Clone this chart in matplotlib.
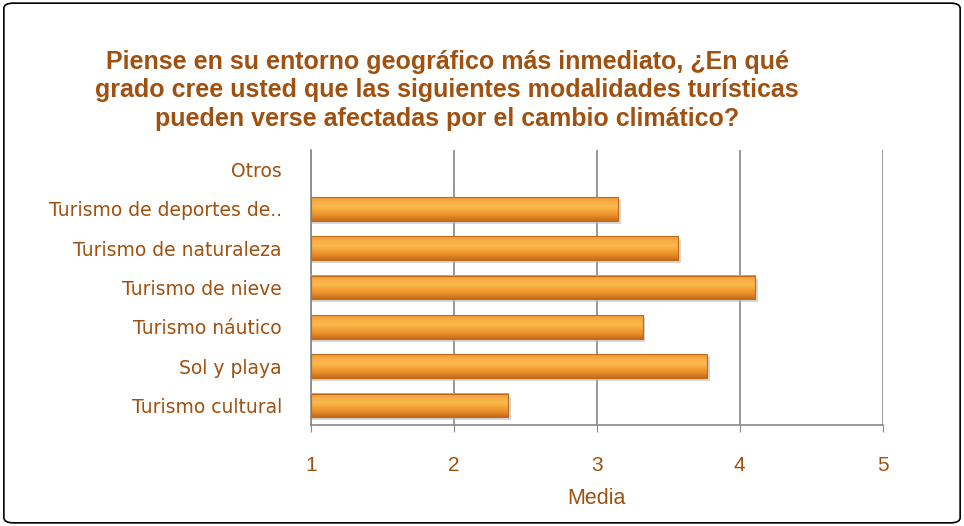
import numpy as np
import matplotlib.pyplot as plt
from matplotlib.colors import LinearSegmentedColormap
from matplotlib.patches import FancyBboxPatch, Rectangle

plt.rcParams['font.family'] = ['Liberation Sans', 'DejaVu Sans']

categories = ['Turismo cultural', 'Sol y playa', 'Turismo náutico', 'Turismo de nieve',
              'Turismo de naturaleza', 'Turismo de deportes de..', 'Otros']
values = [2.38, 3.77, 3.32, 4.11, 3.57, 3.15, np.nan]
xticks = [1, 2, 3, 4, 5]

title = ('Piense en su entorno geográfico más inmediato, ¿En qué\n'
         'grado cree usted que las siguientes modalidades turísticas\n'
         'pueden verse afectadas por el cambio climático?')

brown = '#A0500F'
fig = plt.figure(figsize=(9.64, 5.26), dpi=100)
fig.patches.append(FancyBboxPatch((0.004, 0.006), 0.992, 0.988, boxstyle='round,pad=0,rounding_size=0.01',
                                  transform=fig.transFigure, fill=False, edgecolor='black', linewidth=1.2))

ax = fig.add_axes([0.3226, 0.192, 0.593, 0.523])

# vertical gradient for the bars (top light, bottom dark)
cmap = LinearSegmentedColormap.from_list('bar', ['#C46C1A', '#E58A28', '#F4A236', '#FAB94E', '#F7AE45', '#F09A38'])
grad = np.linspace(0, 1, 64).reshape(-1, 1)
h = 0.6
for i, v in enumerate(values):
    if np.isnan(v):
        continue
    # shadow
    ax.add_patch(Rectangle((1, i - h / 2 - 0.08), v - 1 + 0.02, h, facecolor='#BBBBBB',
                           edgecolor='none', alpha=0.6, zorder=2, hatch='....'))
    ax.imshow(grad, cmap=cmap, aspect='auto', origin='lower',
              extent=(1, v, i - h / 2, i + h / 2), zorder=3)
    ax.add_patch(Rectangle((1, i - h / 2), v - 1, h, facecolor='none',
                           edgecolor='#C06A18', linewidth=0.8, zorder=4))

ax.set_xlim(1, 5)
ax.set_ylim(-0.5, len(categories) - 0.5)
ax.set_xticks(xticks)
ax.set_xticklabels([str(t) for t in xticks], color=brown, fontsize=15)
ax.set_yticks(range(len(categories)))
ax.set_yticklabels(categories, color=brown, fontsize=13.5, family=['DejaVu Sans'])
ax.tick_params(axis='y', length=0, pad=21)
ax.tick_params(axis='x', length=5, color='#888888', pad=17)
ax.grid(axis='x', color='#888888', linewidth=1.2, zorder=1)
ax.set_axisbelow(True)
for s in ['top', 'right']:
    ax.spines[s].set_visible(False)
for s in ['left', 'bottom']:
    ax.spines[s].set_color('#888888')
    ax.spines[s].set_linewidth(1.2)
ax.set_xlabel('Media', color=brown, fontsize=15.5, labelpad=10)

fig.text(0.464, 0.828, title, ha='center', va='center', color=brown,
         fontsize=18, fontweight='bold', linespacing=1.25)

fig.savefig('out.png', dpi=100)
